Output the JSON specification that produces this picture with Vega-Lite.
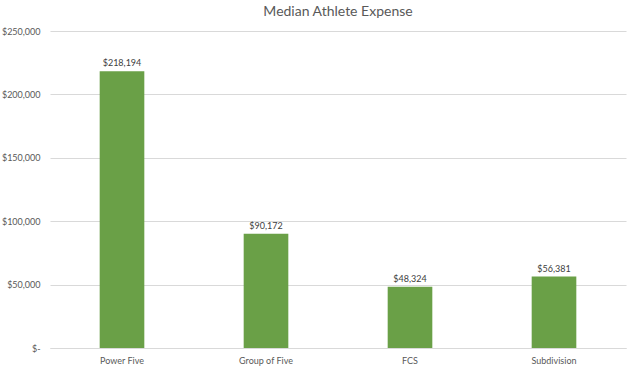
{
  "$schema": "https://vega.github.io/schema/vega-lite/v6.json",
  "autosize": "none",
  "width": 576,
  "height": 317,
  "padding": {"left": 50, "top": 31, "right": 5, "bottom": 23},
  "background": "white",
  "title": {
    "text": "Median Athlete Expense",
    "font": "Lato",
    "fontSize": 14,
    "fontWeight": "normal",
    "color": "#595959",
    "offset": 8,
    "anchor": "middle"
  },
  "data": {
    "values": [
      {"category": "Power Five", "expense": 218194},
      {"category": "Group of Five", "expense": 90172},
      {"category": "FCS", "expense": 48324},
      {"category": "Subdivision", "expense": 56381}
    ]
  },
  "encoding": {
    "x": {
      "field": "category",
      "type": "nominal",
      "sort": null,
      "scale": {"paddingInner": 0.69, "paddingOuter": 0.345},
      "axis": {
        "title": null,
        "labelAngle": 0,
        "ticks": false,
        "domain": true,
        "domainColor": "#d9d9d9",
        "labelFont": "Lato",
        "labelFontSize": 9,
        "labelColor": "#595959",
        "labelPadding": 8
      }
    },
    "y": {
      "field": "expense",
      "type": "quantitative",
      "scale": {"domain": [0, 250000]},
      "axis": {
        "title": null,
        "values": [0, 50000, 100000, 150000, 200000, 250000],
        "labelExpr": "datum.value == 0 ? '$-' : '$' + format(datum.value, ',')",
        "ticks": false,
        "domain": false,
        "grid": true,
        "gridColor": "#d9d9d9",
        "labelFont": "Lato",
        "labelFontSize": 9,
        "labelColor": "#595959",
        "labelPadding": 10
      }
    }
  },
  "layer": [
    {"mark": {"type": "bar", "color": "#6AA047"}},
    {
      "mark": {
        "type": "text",
        "dy": -8,
        "font": "Lato",
        "fontSize": 9,
        "color": "#404040"
      },
      "encoding": {
        "text": {"field": "expense", "type": "quantitative", "format": "$,"}
      }
    }
  ],
  "config": {"view": {"stroke": null}}
}
